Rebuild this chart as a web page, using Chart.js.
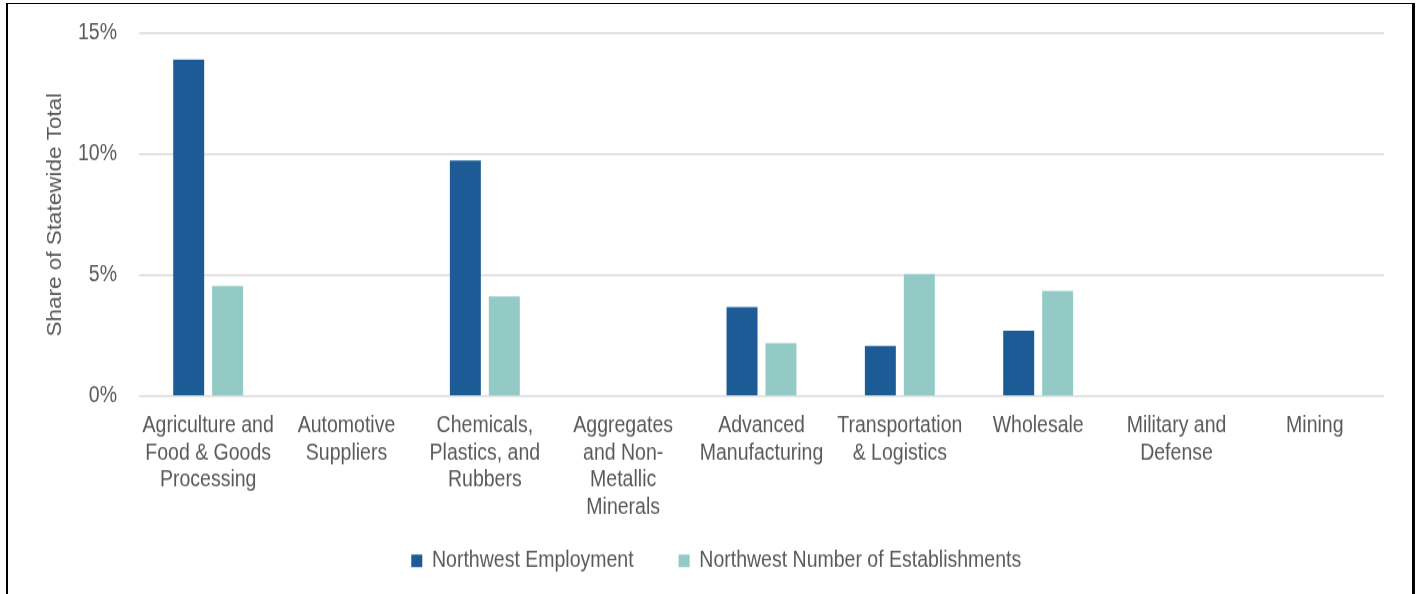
<!DOCTYPE html>
<html>
<head>
<meta charset="utf-8">
<script src="https://cdn.jsdelivr.net/npm/chart.js@4/dist/chart.umd.min.js"></script>
<style>
  html, body { margin: 0; padding: 0; background: #ffffff; overflow: hidden; }
  body { width: 1419px; height: 594px; position: relative; }
  #stage {
    position: absolute; left: 0; top: 0;
    width: 1419px; height: 516.5px;
    transform: scaleY(1.15); transform-origin: 0 0;
  }
  #frame {
    position: absolute; left: 6px; top: 3px; width: 1409px; height: 700px;
    box-sizing: border-box;
    border-left: 2px solid #000; border-top: 1.5px solid #000; border-right: 3px solid #000;
    pointer-events: none;
  }
</style>
</head>
<body>
<div id="stage"><canvas id="chart"></canvas></div>
<div id="frame"></div>
<script>
// Industry clusters (multi-line labels)
const categories = [
  ["Agriculture and", "Food & Goods", "Processing"],
  ["Automotive", "Suppliers"],
  ["Chemicals,", "Plastics, and", "Rubbers"],
  ["Aggregates", "and Non-", "Metallic", "Minerals"],
  ["Advanced", "Manufacturing"],
  ["Transportation", "& Logistics"],
  ["Wholesale"],
  ["Military and", "Defense"],
  ["Mining"]
];

// Share of statewide total, in percent
const employment     = [13.9, null, 9.74, null, 3.68, 2.07, 2.70, null, null];
const establishments = [4.55, null, 4.12, null, 2.19, 5.05, 4.35, null, null];

const seriesNames = ["Northwest Employment", "Northwest Number of Establishments"];
const yTicks = [0, 5, 10, 15];

const textColor = "#595959";
const fontFamily = "'Liberation Sans', Arial, Helvetica, sans-serif";

// Let the four-line category labels run past the axis box instead of being clipped
const labelRoom = {
  id: "labelRoom",
  afterLayout(chart) {
    const x = chart.scales.x;
    x.bottom = x.top + 130;
  }
};

new Chart(document.getElementById("chart"), {
  type: "bar",
  data: {
    labels: categories,
    datasets: [
      { label: seriesNames[0], data: employment, backgroundColor: "#1d5b97" },
      { label: seriesNames[1], data: establishments, backgroundColor: "#94cac6" }
    ]
  },
  plugins: [labelRoom],
  options: {
    responsive: true,
    maintainAspectRatio: false,
    animation: false,
    categoryPercentage: 0.563,
    barPercentage: 0.795,
    layout: { padding: { left: 48.5, right: 35, top: 28.7, bottom: 10 } },
    plugins: {
      tooltip: { enabled: false },
      legend: {
        position: "bottom",
        labels: {
          color: textColor,
          boxWidth: 11,
          boxHeight: 11,
          padding: 45,
          font: { family: fontFamily, size: 19.5 }
        }
      }
    },
    scales: {
      x: {
        grid: { display: false },
        border: { display: false },
        ticks: {
          color: textColor,
          padding: 5.7,
          maxRotation: 0,
          autoSkip: false,
          font: { family: fontFamily, size: 19.5, lineHeight: 1.22 }
        },
        afterFit: (axis) => { axis.height = 88.2; }
      },
      y: {
        min: yTicks[0],
        max: yTicks[yTicks.length - 1],
        afterBuildTicks: (axis) => { axis.ticks = yTicks.map(v => ({ value: v })); },
        grid: { color: "#d9d9d9", lineWidth: 1.5, drawTicks: false },
        border: { display: false },
        ticks: {
          color: textColor,
          padding: 22,
          font: { family: fontFamily, size: 19.5, lineHeight: 0.6 },
          callback: (v) => v + "%"
        },
        title: {
          display: true,
          text: "Share of Statewide Total",
          color: textColor,
          padding: 0,
          font: { family: fontFamily, size: 19.5, lineHeight: 0.7 }
        },
        afterFit: (axis) => { axis.width = 90.5; }
      }
    }
  }
});
</script>
</body>
</html>
